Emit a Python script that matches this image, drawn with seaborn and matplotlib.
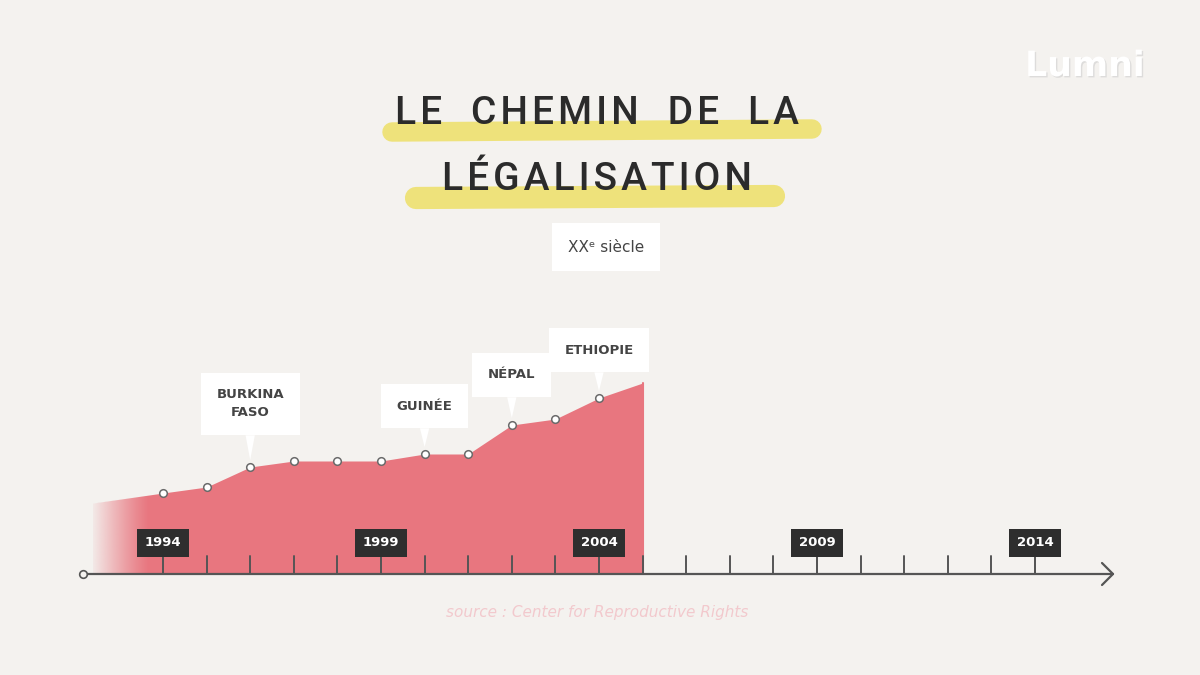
import numpy as np
import seaborn as sns
import matplotlib.pyplot as plt
import matplotlib.patheffects as pe

# data (height of the pink area above the time axis)
annees = [1994, 1995, 1996, 1997, 1998, 1999, 2000, 2001, 2002, 2003, 2004]
niveau = [81, 87, 107, 113, 113, 113, 120, 120, 149, 155, 176]
debut_annee, debut_niveau = 1992.4, 71
fin_annee, fin_niveau = 2005, 191

pays = ['BURKINA\nFASO', 'GUINÉE', 'NÉPAL', 'ETHIOPIE']
pays_annee = [1996, 2000, 2002, 2004]
pays_decalage = [63, 48, 50, 48]

annees_graduees = list(range(1994, 2015))
annees_etiquettes = [1994, 1999, 2004, 2009, 2014]

titre = ['LE CHEMIN DE LA', 'LÉGALISATION']

fond = '#F4F2EF'
rose = '#E8767F'

sns.set_theme(style='white')
plt.rcParams['font.family'] = ['DejaVu Sans']

fig = plt.figure(figsize=(12, 6.75), dpi=100, facecolor=fond)
ax = fig.add_axes([0, 0, 1, 1])
ax.set_facecolor(fond)
px = 43.6  # pixels per year
x0 = 1994 - 163 / px
ax.set_xlim(x0, x0 + 1200 / px)
ax.set_ylim(-101, 574)
ax.axis('off')

# pink area
xs = [debut_annee] + annees + [fin_annee]
ys = [debut_niveau] + niveau + [fin_niveau]
poly = ax.fill_between(xs, 0, ys, color=rose, lw=0, zorder=2)
ax.plot([fin_annee, fin_annee], [0, fin_niveau], color=rose, lw=1.5, zorder=2)

# fade on the left edge
grad = np.zeros((2, 100, 4))
rgb = np.array([0xF4, 0xF2, 0xEF]) / 255
grad[..., :3] = rgb
grad[..., 3] = np.linspace(0.95, 0, 100) ** 1.2
im = ax.imshow(grad, extent=[debut_annee, debut_annee + 1.3, 0, 120],
               aspect='auto', zorder=3, interpolation='bilinear')
im.set_clip_path(poly.get_paths()[0], transform=ax.transData)

# points
sns.scatterplot(x=annees, y=niveau, ax=ax, s=30, color='white',
                edgecolor='#6a6a6a', linewidth=1.1, zorder=6)

# time axis
ax.plot([x0 + 83 / px, x0 + 1113 / px], [0, 0], color='#555555', lw=1.6, zorder=4)
ax.scatter([x0 + 83 / px], [0], s=30, color=fond, edgecolor='#555555',
           linewidth=1.2, zorder=5)
ax.plot([x0 + 1102 / px, x0 + 1113 / px, x0 + 1102 / px], [11, 0, -11],
        color='#555555', lw=1.6, zorder=4)
for a in annees_graduees:
    ax.plot([a, a], [0, 18], color='#555555', lw=1.4, zorder=4)
for a in annees_etiquettes:
    ax.plot([a, a], [0, 30], color='#555555', lw=1.4, zorder=4)
    ax.text(a, 31, str(a), ha='center', va='center', fontsize=9.5,
            fontweight='bold', color='white', zorder=7,
            bbox=dict(boxstyle='square,pad=0.55', fc='#2E2E2E', ec='none'))

# callouts
for nom, a, d in zip(pays, pays_annee, pays_decalage):
    h = niveau[annees.index(a)]
    ax.annotate(nom, xy=(a, h + 7), xytext=(a, h + d), ha='center',
                va='center', fontsize=9.5, fontweight='bold', color='#444444',
                linespacing=1.5, zorder=8,
                bbox=dict(boxstyle='square,pad=1.2', fc='white', ec='none'),
                arrowprops=dict(arrowstyle='wedge,tail_width=0.7', fc='white',
                                ec='none', shrinkA=0, shrinkB=0))

# title with highlighter strokes
ax.plot([x0 + 392 / px, x0 + 812 / px], [574 - 132, 574 - 129],
        color='#EEE067', lw=14, alpha=0.85, solid_capstyle='round', zorder=1)
ax.plot([x0 + 416 / px, x0 + 774 / px], [574 - 198, 574 - 196],
        color='#EEE067', lw=16, alpha=0.85, solid_capstyle='round', zorder=1)
for ligne, y in zip(titre, [113, 180]):
    espace = '\u200a'.join(ligne).replace('\u200a \u200a', '   ')
    fig.text(597 / 1200, 1 - y / 675, espace, ha='center', va='center',
             fontsize=28, fontweight='medium', color='#2B2B2B', zorder=9,
             family=['Roboto', 'DejaVu Sans'])

fig.text(606 / 1200, 1 - 247 / 675, 'XXᵉ siècle', ha='center', va='center',
         fontsize=11, color='#444444',
         bbox=dict(boxstyle='square,pad=1.05', fc='white', ec='none'))

fig.text(1085 / 1200, 1 - 66 / 675, 'Lumni', ha='center', va='center',
         fontsize=25, fontweight='bold', color='white',
         path_effects=[pe.withSimplePatchShadow(offset=(1, -1),
                                                shadow_rgbFace='#c8c8c8', alpha=0.5)])

fig.text(597 / 1200, 1 - 612 / 675, 'source : Center for Reproductive Rights',
         ha='center', va='center', fontsize=11, style='italic', color='#F2C9CD')

fig.savefig('out.png', dpi=100, facecolor=fond)
